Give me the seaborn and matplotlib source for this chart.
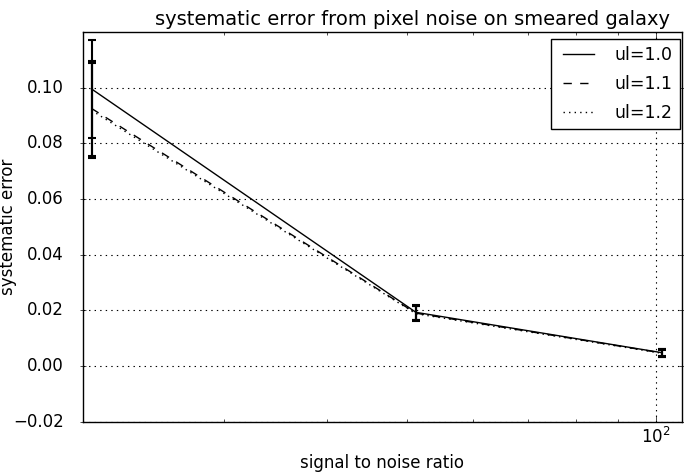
import numpy as np
import pandas as pd
import matplotlib
matplotlib.use('Agg')
import matplotlib.pyplot as plt
import seaborn as sns
from matplotlib.ticker import NullFormatter

plt.style.use('classic')
plt.rcParams['font.family'] = ['DejaVu Sans']

# signal to noise ratio of the three runs
snr = [20.7, 51.2, 101.8]
labels = ['ul=1.0', 'ul=1.1', 'ul=1.2']
err_10 = [0.0995, 0.0193, 0.0048]
err_11 = [0.0925, 0.0190, 0.0047]
err_12 = [0.0918, 0.0188, 0.0046]
sig_10 = [0.0175, 0.0027, 0.0013]
sig_11 = [0.0172, 0.0026, 0.0013]
sig_12 = [0.0170, 0.0026, 0.0013]

series = [(err_10, sig_10, '-'), (err_11, sig_11, '--'), (err_12, sig_12, ':')]

fig, ax = plt.subplots(figsize=(6.84, 4.75), dpi=100)
fig.patch.set_facecolor('white')
fig.subplots_adjust(left=0.121, right=0.997, top=0.933, bottom=0.112)

for lab, (y, s, ls) in zip(labels, series):
    df = pd.DataFrame({'snr': snr, 'err': y})
    sns.lineplot(data=df, x='snr', y='err', color='k', linestyle=ls,
                 linewidth=1, label=lab, ax=ax, legend=False)
    ax.errorbar(snr, y, yerr=s, fmt='none', ecolor='k', elinewidth=1.5,
                capsize=3, capthick=1.5)

ax.set_xscale('log')
ax.set_xlim(20.2, 107.6)
ax.set_ylim(-0.02, 0.12)
ax.set_yticks(np.arange(-0.02, 0.101, 0.02))
ax.xaxis.set_minor_formatter(NullFormatter())
ax.tick_params(axis='y', which='major', direction='inout', size=5, pad=11)
ax.grid(True, which='major', color='k', linestyle=':', linewidth=0.8)

ax.set_title('systematic error from pixel noise on smeared galaxy', fontsize=14, x=0.551)
ax.set_xlabel('signal to noise ratio', fontsize=12)
ax.set_ylabel('systematic error', fontsize=12)
ax.yaxis.set_label_coords(-0.110, 0.5)
ax.legend(loc='upper right', bbox_to_anchor=(0.994, 0.918),
          bbox_transform=fig.transFigure, borderaxespad=0, fontsize=12.5,
          handlelength=2.4, handletextpad=0.9, labelspacing=0.65)

plt.savefig('out.png', dpi=100, facecolor='white')
